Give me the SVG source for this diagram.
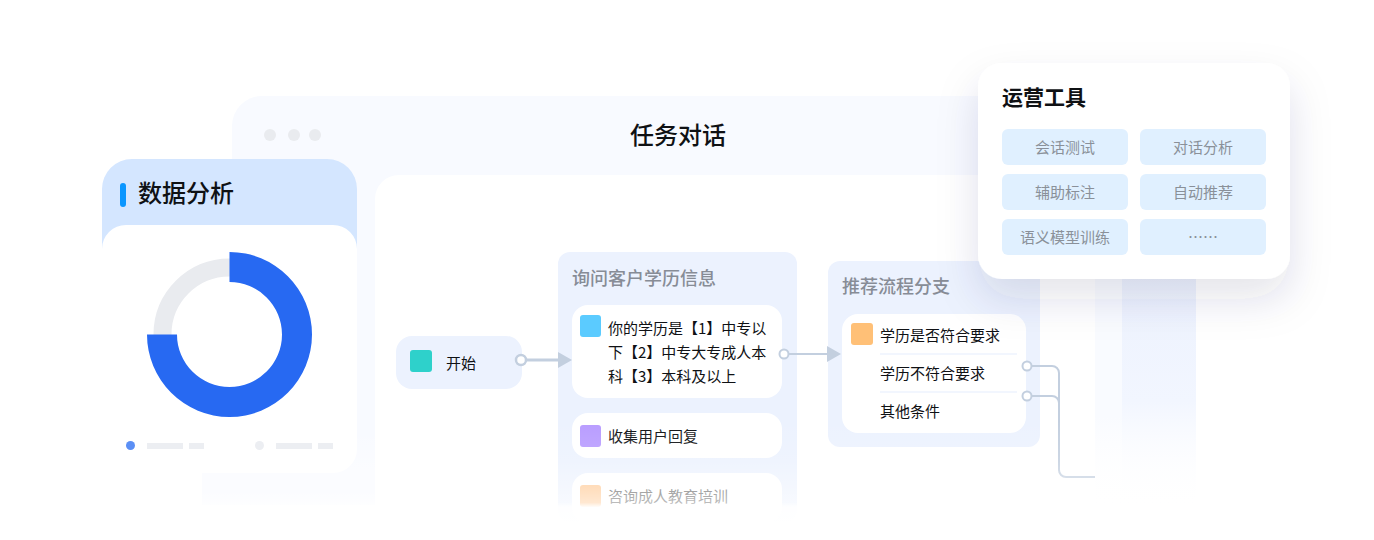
<svg xmlns="http://www.w3.org/2000/svg" width="1374" height="540" viewBox="0 0 1374 540">
<style>
text{font-family:"Noto Sans CJK SC","Liberation Sans",sans-serif;fill:#0f1114}
.t15{font-size:15px}
.gt{font-size:18px;font-weight:500;fill:#878c96}
.chip{fill:#e0f0ff}
.chipt{font-size:15px;fill:#8a9099;text-anchor:middle}
.grp{fill:#ecf2fe}
.item{fill:#fff}
.line{fill:none;stroke:#c3cfdf;stroke-width:2}
.port{fill:#fff;stroke:#c3cfdf;stroke-width:2}
.arrow{fill:#c3cfdf}
.bar{fill:#eceef2}
.dot{fill:#e9ebef}
</style>
<defs>
<linearGradient id="fade" x1="0" y1="0" x2="0" y2="1"><stop offset="0" stop-color="#fff" stop-opacity="0"/><stop offset=".36" stop-color="#fff" stop-opacity=".15"/><stop offset=".64" stop-color="#fff" stop-opacity=".45"/><stop offset=".75" stop-color="#fff" stop-opacity=".6"/><stop offset=".79" stop-color="#fff" stop-opacity=".95"/><stop offset="1" stop-color="#fff"/></linearGradient>
<linearGradient id="strip" x1="0" y1="0" x2="0" y2="1"><stop offset="0" stop-color="#e8eefc"/><stop offset=".35" stop-color="#eef3fe"/><stop offset=".65" stop-color="#f2f6ff"/><stop offset="1" stop-color="#fff" stop-opacity="0"/></linearGradient>
<linearGradient id="strip2" x1="0" y1="0" x2="0" y2="1"><stop offset="0" stop-color="#f9fbff"/><stop offset=".7" stop-color="#f9fbff"/><stop offset="1" stop-color="#fff" stop-opacity="0"/></linearGradient>
<linearGradient id="low" x1="0" y1="0" x2="0" y2="1"><stop offset="0" stop-color="#fff" stop-opacity="0"/><stop offset=".7" stop-color="#fff" stop-opacity=".6"/><stop offset="1" stop-color="#fff"/></linearGradient>
<filter id="sh" x="-30%" y="-30%" width="160%" height="180%"><feDropShadow dx="0" dy="20" stdDeviation="20" flood-color="#2a3a60" flood-opacity=".13"/></filter>
</defs>
<g id="window">
<rect x="1095" y="200" width="27" height="310" fill="url(#strip2)"/>
<rect x="1122" y="200" width="74" height="310" fill="url(#strip)"/>
<rect x="232" y="96" width="863" height="410" rx="30" fill="#f8faff"/>
<rect x="232" y="430" width="143" height="80" fill="url(#low)"/>
<rect x="202" y="473" width="173" height="32" fill="#fbfcff"/>
<rect x="202" y="490" width="173" height="20" fill="url(#low)"/>
<path d="M399 175H1095V510H375V199a24 24 0 0 1 24-24Z" fill="#fff"/>
<circle class="dot" cx="270" cy="135" r="6"/><circle class="dot" cx="294" cy="135" r="6"/><circle class="dot" cx="315" cy="135" r="6"/>
<text x="678" y="144" text-anchor="middle" font-size="24" font-weight="500">任务对话</text>
</g>
<g id="node-start">
<rect class="grp" x="396" y="336" width="126" height="53" rx="16"/>
<rect x="410" y="350" width="22" height="22" rx="3" fill="#2ed1cb"/>
<text class="t15" x="446" y="369">开始</text>
</g>
<g id="node-ask">
<rect class="grp" x="558" y="252" width="239" height="270" rx="12"/>
<text class="gt" x="572" y="285">询问客户学历信息</text>
<rect class="item" x="572" y="305" width="210" height="93" rx="16"/>
<rect x="580" y="315" width="21" height="22" rx="3" fill="#5bcbff"/>
<text class="t15" x="608" y="334">你的学历是【1】中专以</text>
<text class="t15" x="608" y="358">下【2】中专大专成人本</text>
<text class="t15" x="608" y="382">科【3】本科及以上</text>
<rect class="item" x="572" y="413" width="210" height="45" rx="16"/>
<rect x="580" y="425" width="21" height="22" rx="3" fill="#b89cff"/>
<text class="t15" x="608" y="442">收集用户回复</text>
<rect class="item" x="572" y="473" width="210" height="50" rx="16"/>
<rect x="580" y="485" width="21" height="22" rx="3" fill="#ffc58c"/>
<text class="t15" x="608" y="502" style="fill:#555">咨询成人教育培训</text>
</g>
<g id="node-branch">
<rect class="grp" x="828" y="261" width="212" height="186" rx="12"/>
<text class="gt" x="842" y="293">推荐流程分支</text>
<rect class="item" x="842" y="314" width="184" height="119" rx="16"/>
<rect x="851" y="323" width="22" height="22" rx="3" fill="#ffc077"/>
<text class="t15" x="880" y="341">学历是否符合要求</text>
<text class="t15" x="880" y="379">学历不符合要求</text>
<text class="t15" x="880" y="417">其他条件</text>
<path d="M880 354H1017M880 392H1017" stroke="#eef3fe" stroke-width="1.5" fill="none"/>
</g>
<g id="connectors">
<path class="line" style="stroke-width:3" d="M526 360H558"/><path class="arrow" d="M558 352L572 360L558 368Z"/><circle class="port" style="stroke-width:2.5" cx="521" cy="360" r="5"/>
<path class="line" d="M788 354H828"/><path class="arrow" d="M827 346L841 354L827 362Z"/><circle class="port" cx="784" cy="354" r="4.5"/>
<path class="line" d="M1031 366H1052a7 7 0 0 1 7 7V470a7 7 0 0 0 7 7H1095"/><path class="line" d="M1031 396H1052a7 7 0 0 1 7 7"/>
<circle class="port" cx="1027" cy="366" r="4.5"/><circle class="port" cx="1027" cy="396" r="4.5"/>
</g>
<rect id="bottom-fade" x="375" y="420" width="825" height="110" fill="url(#fade)"/>
<g id="node-data">
<path d="M132 159H327a30 30 0 0 1 30 30V300H102V189a30 30 0 0 1 30-30Z" fill="#d4e6ff"/>
<rect x="102" y="225" width="255" height="248" rx="24" fill="#fff"/>
<rect x="120" y="183" width="6" height="24" rx="3" fill="#0a96ff"/>
<text x="138" y="202" font-size="24" font-weight="500">数据分析</text>
<circle cx="229.5" cy="334.5" r="67" fill="none" stroke="#e9ebef" stroke-width="18"/>
<path d="M229.5 252A82.5 82.5 0 1 1 147 334.5H177A52.5 52.5 0 1 0 229.5 282Z" fill="#2769f2"/>
<circle cx="130.5" cy="445.5" r="4.5" fill="#5b8ff5"/>
<rect class="bar" x="147" y="443" width="36" height="6"/><rect class="bar" x="189" y="443" width="15" height="6"/>
<circle class="bar" cx="259.5" cy="445.5" r="4.5"/>
<rect class="bar" x="276" y="443" width="36" height="6"/><rect class="bar" x="318" y="443" width="15" height="6"/>
</g>
<g id="node-tools">
<rect x="978" y="63" width="312" height="216" rx="24" fill="#fff" filter="url(#sh)"/>
<text x="1002" y="105" font-size="21" font-weight="700">运营工具</text>
<rect class="chip" x="1002" y="129" width="126" height="36" rx="6"/><text class="chipt" x="1065" y="153">会话测试</text>
<rect class="chip" x="1140" y="129" width="126" height="36" rx="6"/><text class="chipt" x="1203" y="153">对话分析</text>
<rect class="chip" x="1002" y="174" width="126" height="36" rx="6"/><text class="chipt" x="1065" y="198">辅助标注</text>
<rect class="chip" x="1140" y="174" width="126" height="36" rx="6"/><text class="chipt" x="1203" y="198">自动推荐</text>
<rect class="chip" x="1002" y="219" width="126" height="36" rx="6"/><text class="chipt" x="1065" y="243">语义模型训练</text>
<rect class="chip" x="1140" y="219" width="126" height="36" rx="6"/><text class="chipt" x="1203" y="243">……</text>
</g>
</svg>
